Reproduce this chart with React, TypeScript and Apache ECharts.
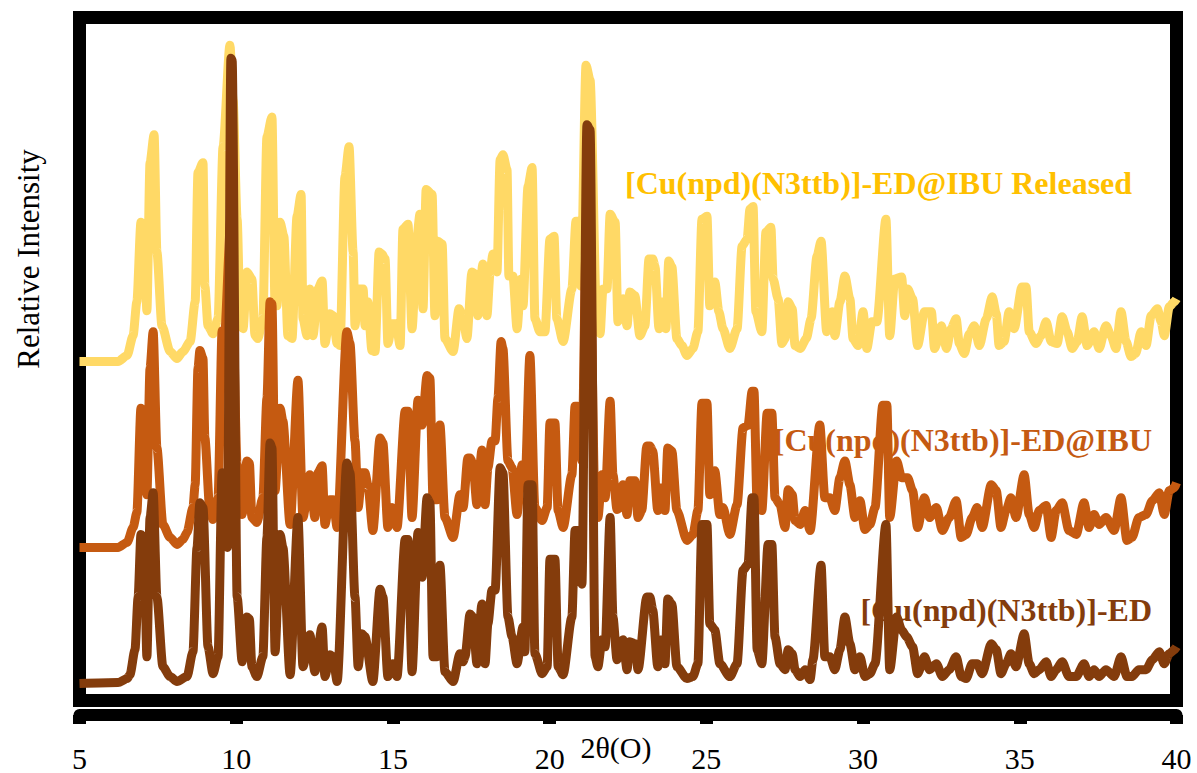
import React, { useEffect, useRef } from "react";
import * as echarts from "echarts";

// 2θ ticks
const xTicks = [5, 10, 15, 20, 25, 30, 35, 40];

// [2θ, intensity (a.u., stacked with offsets)]
const released: number[][] = [
  [5.0,337],[6.23,337],[6.52,343],[6.71,363],[6.83,397],[6.96,477],[7.06,470],[7.15,388],[7.25,537],[7.38,565],[7.47,447],[7.63,373],[7.89,347],[8.11,340],[8.30,347],[8.53,357],[8.69,397],[8.78,527],[8.94,537],[9.00,413],[9.10,373],[9.26,365],[9.42,380],[9.58,553],[9.80,655],[9.90,600],[10.03,480],[10.13,373],[10.22,370],[10.34,427],[10.50,420],[10.60,363],[10.69,360],[10.85,380],[10.98,563],[11.14,583],[11.24,393],[11.30,393],[11.40,477],[11.52,463],[11.65,363],[11.78,360],[11.94,483],[12.07,505],[12.13,380],[12.26,363],[12.35,410],[12.45,363],[12.61,410],[12.74,418],[12.83,355],[12.99,385],[13.09,383],[13.22,355],[13.31,353],[13.47,523],[13.60,553],[13.73,447],[13.79,373],[13.89,410],[14.05,410],[14.11,373],[14.20,397],[14.33,348],[14.43,347],[14.56,447],[14.65,445],[14.75,440],[14.84,355],[14.97,375],[15.10,375],[15.23,353],[15.32,470],[15.48,475],[15.61,370],[15.77,463],[15.86,485],[15.96,390],[16.06,510],[16.25,505],[16.34,383],[16.44,458],[16.57,455],[16.66,360],[16.92,347],[17.11,390],[17.24,380],[17.36,360],[17.52,427],[17.62,425],[17.71,383],[17.87,435],[18.00,383],[18.10,427],[18.19,445],[18.32,427],[18.42,540],[18.51,545],[18.64,530],[18.70,423],[18.83,423],[18.96,370],[19.09,420],[19.15,393],[19.31,513],[19.44,532],[19.53,380],[19.69,367],[19.85,367],[20.01,460],[20.14,463],[20.23,380],[20.43,357],[20.71,410],[20.84,478],[20.90,478],[21.00,413],[21.16,635],[21.29,620],[21.51,370],[21.61,365],[21.70,410],[21.83,410],[21.93,485],[22.09,477],[22.18,377],[22.34,400],[22.47,373],[22.56,407],[22.72,403],[22.88,363],[23.04,373],[23.17,440],[23.29,440],[23.36,433],[23.49,370],[23.61,397],[23.71,370],[23.80,438],[23.90,432],[24.06,360],[24.22,353],[24.38,343],[24.57,350],[24.73,367],[24.86,480],[25.02,483],[25.11,393],[25.27,417],[25.40,387],[25.53,370],[25.75,350],[25.98,370],[26.14,453],[26.30,460],[26.39,490],[26.49,493],[26.58,387],[26.77,367],[26.90,467],[27.06,472],[27.13,420],[27.29,400],[27.41,355],[27.51,360],[27.61,397],[27.74,390],[27.83,353],[27.99,350],[28.19,360],[28.34,380],[28.53,443],[28.66,458],[28.84,367],[29.01,387],[29.10,363],[29.26,397],[29.42,423],[29.58,400],[29.68,360],[29.84,353],[30.00,387],[30.12,350],[30.28,377],[30.44,377],[30.73,480],[30.85,363],[31.01,420],[31.23,422],[31.33,383],[31.42,410],[31.58,400],[31.74,353],[31.96,387],[32.18,387],[32.28,350],[32.50,373],[32.66,350],[32.81,370],[32.97,380],[33.07,355],[33.23,345],[33.39,365],[33.55,373],[33.71,353],[33.93,380],[34.12,402],[34.25,385],[34.34,353],[34.50,357],[34.66,387],[34.82,370],[35.07,412],[35.20,412],[35.30,367],[35.52,355],[35.68,363],[35.84,377],[36.00,357],[36.19,355],[36.35,382],[36.51,367],[36.67,350],[36.83,357],[36.99,382],[37.15,353],[37.37,367],[37.53,350],[37.75,373],[37.91,363],[38.07,350],[38.23,387],[38.39,357],[38.55,342],[38.70,345],[38.87,367],[39.03,353],[39.19,383],[39.39,390],[39.51,377],[39.61,363],[39.77,392],[39.93,397],[40.0,400]
];

const edIbu: number[][] = [
  [5.0,150],[6.23,150],[6.52,155],[6.71,170],[6.83,185],[6.96,290],[7.06,280],[7.15,203],[7.25,330],[7.35,367],[7.47,250],[7.66,173],[7.89,160],[8.11,153],[8.30,158],[8.43,165],[8.62,190],[8.69,213],[8.78,330],[8.84,348],[8.94,340],[9.00,260],[9.16,187],[9.26,178],[9.42,200],[9.55,368],[9.62,360],[9.83,480],[10.03,233],[10.19,183],[10.34,237],[10.42,235],[10.50,180],[10.66,175],[10.85,200],[10.98,300],[11.08,397],[11.14,395],[11.24,207],[11.40,290],[11.49,277],[11.72,173],[11.97,318],[12.13,180],[12.35,223],[12.51,180],[12.61,225],[12.74,232],[12.83,173],[12.99,198],[13.09,198],[13.22,170],[13.53,367],[13.63,355],[13.79,257],[13.89,190],[14.01,225],[14.11,225],[14.20,213],[14.36,167],[14.59,260],[14.68,255],[14.84,170],[14.97,190],[15.13,170],[15.39,287],[15.48,287],[15.61,180],[15.80,298],[15.93,273],[16.09,323],[16.18,320],[16.28,198],[16.41,198],[16.50,273],[16.66,180],[16.92,160],[17.14,203],[17.24,190],[17.39,240],[17.46,240],[17.55,235],[17.68,193],[17.84,248],[17.94,193],[18.03,230],[18.16,257],[18.26,257],[18.35,300],[18.45,357],[18.51,350],[18.67,237],[18.80,230],[18.96,183],[19.12,233],[19.21,210],[19.37,343],[19.53,190],[19.76,177],[19.92,190],[20.01,275],[20.17,275],[20.27,187],[20.43,170],[20.71,223],[20.81,292],[20.90,292],[21.03,237],[21.16,450],[21.29,440],[21.45,187],[21.54,180],[21.67,223],[21.77,200],[21.93,297],[22.02,223],[22.15,188],[22.25,190],[22.34,213],[22.47,183],[22.56,217],[22.72,217],[22.82,180],[22.94,187],[23.10,252],[23.20,252],[23.29,247],[23.45,187],[23.58,210],[23.68,187],[23.77,250],[23.90,247],[24.06,187],[24.38,157],[24.57,163],[24.73,187],[24.86,295],[25.02,295],[25.11,203],[25.27,227],[25.43,183],[25.53,190],[25.75,163],[25.98,193],[26.17,270],[26.33,273],[26.46,307],[26.52,307],[26.62,193],[26.77,187],[26.94,285],[27.09,285],[27.19,200],[27.35,193],[27.51,170],[27.61,208],[27.74,203],[27.83,177],[27.99,173],[28.15,187],[28.31,167],[28.62,273],[28.78,200],[28.94,200],[29.10,187],[29.26,220],[29.42,237],[29.58,213],[29.74,180],[29.90,197],[30.06,168],[30.22,173],[30.38,190],[30.63,293],[30.76,293],[30.85,180],[31.07,237],[31.23,220],[31.42,220],[31.58,207],[31.74,170],[31.96,200],[32.12,180],[32.34,190],[32.53,167],[32.75,180],[32.97,197],[33.13,160],[33.29,163],[33.48,180],[33.64,190],[33.80,170],[34.09,213],[34.25,207],[34.40,170],[34.56,187],[34.72,200],[34.88,180],[35.14,223],[35.30,183],[35.46,170],[35.62,187],[35.84,192],[36.00,160],[36.16,187],[36.35,195],[36.57,167],[36.80,163],[37.05,195],[37.21,170],[37.37,183],[37.53,173],[37.75,180],[38.01,167],[38.23,200],[38.42,157],[38.58,160],[38.80,180],[39.03,183],[39.23,197],[39.45,205],[39.61,183],[39.77,207],[39.93,210],[40.0,215]
];

const ed: number[][] = [
  [5.0,13],[6.23,14],[6.52,18],[6.61,22],[6.77,47],[6.87,100],[6.96,163],[7.06,160],[7.15,40],[7.25,180],[7.35,205],[7.47,100],[7.66,30],[7.89,20],[8.11,15],[8.43,20],[8.62,45],[8.75,150],[8.84,195],[8.94,190],[9.10,50],[9.26,23],[9.42,40],[9.55,225],[9.62,220],[9.72,150],[9.83,642],[9.87,640],[10.03,100],[10.19,35],[10.34,80],[10.42,78],[10.50,30],[10.66,20],[10.85,40],[10.98,160],[11.08,255],[11.14,250],[11.24,45],[11.40,163],[11.49,150],[11.72,22],[11.97,180],[12.13,30],[12.35,62],[12.51,25],[12.74,70],[12.83,20],[12.99,42],[13.09,40],[13.22,15],[13.53,235],[13.63,225],[13.79,100],[13.89,30],[14.01,63],[14.11,60],[14.36,15],[14.59,108],[14.68,100],[14.84,20],[15.00,33],[15.13,20],[15.39,158],[15.48,158],[15.61,25],[15.80,165],[15.93,120],[16.09,200],[16.18,195],[16.28,40],[16.41,40],[16.50,132],[16.66,25],[16.92,15],[17.14,43],[17.24,35],[17.30,40],[17.46,83],[17.55,80],[17.68,33],[17.84,93],[17.94,33],[18.03,73],[18.16,107],[18.26,107],[18.42,230],[18.51,225],[18.67,80],[18.80,60],[18.96,33],[19.15,70],[19.21,45],[19.31,213],[19.44,213],[19.53,43],[19.76,23],[19.92,30],[20.01,138],[20.17,138],[20.27,30],[20.43,22],[20.71,80],[20.81,167],[20.90,167],[21.03,113],[21.19,575],[21.29,570],[21.45,40],[21.54,30],[21.67,57],[21.77,50],[21.93,180],[22.02,80],[22.15,37],[22.34,57],[22.47,27],[22.56,55],[22.72,53],[22.82,27],[23.10,100],[23.20,100],[23.29,87],[23.45,30],[23.58,57],[23.68,33],[23.77,98],[23.90,93],[24.06,30],[24.38,18],[24.57,20],[24.73,33],[24.86,173],[25.02,173],[25.11,73],[25.27,67],[25.43,33],[25.75,20],[25.98,33],[26.17,127],[26.33,133],[26.46,200],[26.52,200],[26.62,47],[26.77,33],[26.97,153],[27.09,153],[27.19,60],[27.35,33],[27.51,27],[27.61,47],[27.74,43],[27.83,27],[27.99,20],[28.15,27],[28.31,17],[28.40,37],[28.66,132],[28.78,40],[28.94,40],[29.10,27],[29.26,47],[29.42,80],[29.58,53],[29.74,27],[29.90,40],[30.06,20],[30.22,23],[30.38,33],[30.73,173],[30.85,27],[31.07,80],[31.23,67],[31.39,60],[31.58,50],[31.74,23],[31.96,40],[32.12,27],[32.34,33],[32.53,20],[32.75,27],[32.97,40],[33.13,20],[33.29,18],[33.48,33],[33.64,33],[33.80,23],[34.09,53],[34.25,47],[34.40,23],[34.56,33],[34.72,43],[34.88,30],[35.14,63],[35.30,33],[35.46,23],[35.62,27],[35.84,35],[36.00,20],[36.16,27],[36.35,35],[36.57,20],[36.80,20],[37.05,33],[37.21,20],[37.37,27],[37.53,20],[37.75,27],[38.01,20],[38.23,40],[38.42,20],[38.58,20],[38.80,27],[39.03,27],[39.23,37],[39.45,45],[39.61,33],[39.77,43],[39.93,47],[40.0,50]
];

const seriesNames = [
  "[Cu(npd)(N3ttb)]-ED@IBU Released",
  "[Cu(npd)(N3ttb)]-ED@IBU",
  "[Cu(npd)(N3ttb)]-ED",
];

const SERIF = "'Liberation Serif', 'Times New Roman', serif";

export default function App() {
  const ref = useRef<HTMLDivElement>(null);
  useEffect(() => {
    if (!ref.current) return;
    const chart = echarts.init(ref.current, undefined, { renderer: "svg" });
    const mkLine = (name: string, data: number[][], color: string) => ({
      type: "line",
      name,
      data,
      symbol: "none",
      clip: false,
      z: 3,
      smooth: 0.25,
      smoothMonotone: "x",
      lineStyle: { color, width: 9, join: "miter", miterLimit: 4, cap: "butt" },
    });
    chart.setOption({
      animation: false,
      backgroundColor: "#ffffff",
      grid: { left: 79.5, right: 20.5, top: 17.5, bottom: 72.5 },
      xAxis: {
        type: "value",
        min: 5,
        max: 40,
        interval: 5,
        offset: 18.5,
        axisLine: { show: true, onZero: false, lineStyle: { color: "#000", width: 12 } },
        axisTick: { show: true, length: 9, lineStyle: { color: "#000", width: 13 } },
        axisLabel: {
          margin: 28,
          fontSize: 30,
          fontFamily: SERIF,
          color: "#000",
          formatter: (v: number) => (xTicks.includes(v) ? String(v) : ""),
        },
        splitLine: { show: false },
      },
      yAxis: {
        type: "value",
        min: 0,
        max: 683,
        show: false,
      },
      graphic: [
        {
          type: "rect",
          z: 1,
          shape: { x: 79.5, y: 17.5, width: 1097, height: 683 },
          style: { fill: "none", stroke: "#000", lineWidth: 13 },
        },
        {
          type: "text",
          z: 1,
          x: 616,
          y: 747,
          style: { text: "2θ(O)", font: `30px ${SERIF}`, fill: "#000", align: "center", verticalAlign: "middle" },
        },
        {
          type: "text",
          z: 1,
          x: 28,
          y: 259,
          rotation: Math.PI / 2,
          style: { text: "Relative Intensity", font: `31px ${SERIF}`, fill: "#000", align: "center", verticalAlign: "middle" },
        },
        {
          type: "text",
          z: 1,
          x: 625,
          y: 182.5,
          style: { text: seriesNames[0], font: `bold 32px ${SERIF}`, fill: "#FFC000", align: "left", verticalAlign: "middle" },
        },
        {
          type: "text",
          z: 1,
          x: 1152,
          y: 440,
          style: { text: seriesNames[1], font: `bold 32px ${SERIF}`, fill: "#C55A11", align: "right", verticalAlign: "middle" },
        },
        {
          type: "text",
          z: 1,
          x: 1152,
          y: 610,
          style: { text: seriesNames[2], font: `bold 32px ${SERIF}`, fill: "#843C0C", align: "right", verticalAlign: "middle" },
        },
      ],
      series: [
        mkLine(seriesNames[0], released, "#FFD966"),
        mkLine(seriesNames[1], edIbu, "#C55A11"),
        mkLine(seriesNames[2], ed, "#843C0C"),
      ],
    });
    return () => chart.dispose();
  }, []);
  return (
    <div
      ref={ref}
      style={{ position: "fixed", left: 0, top: 0, width: 1197, height: 773, background: "#fff" }}
    />
  );
}
